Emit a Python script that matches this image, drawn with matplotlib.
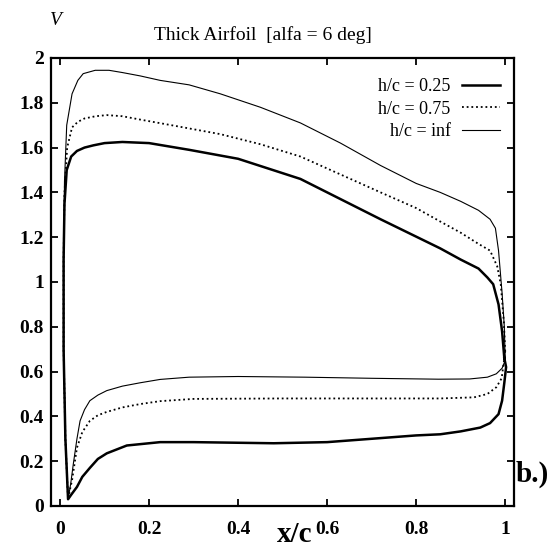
import matplotlib
matplotlib.use("Agg")
import matplotlib.pyplot as plt

# velocity distributions V over the chord, upper and lower surface per ground distance
x_up_025 = [0.018, 0.012, 0.008, 0.008, 0.010, 0.015, 0.025, 0.038, 0.055, 0.075, 0.10, 0.14, 0.20,
            0.29, 0.40, 0.54, 0.72, 0.854, 0.90, 0.94, 0.96, 0.973, 0.985, 0.993, 0.998]
v_up_025 = [0.03, 0.30, 0.70, 1.10, 1.35, 1.50, 1.56, 1.585, 1.60, 1.61, 1.62, 1.625, 1.62,
            1.59, 1.55, 1.46, 1.28, 1.15, 1.10, 1.06, 1.02, 0.99, 0.90, 0.78, 0.66]
x_lo_025 = [0.018, 0.025, 0.038, 0.05, 0.067, 0.085, 0.105, 0.15, 0.225, 0.30, 0.48, 0.60, 0.70,
            0.80, 0.854, 0.90, 0.944, 0.966, 0.985, 0.993, 0.998, 1.002, 0.998]
v_lo_025 = [0.03, 0.05, 0.085, 0.13, 0.17, 0.21, 0.235, 0.27, 0.285, 0.285, 0.28, 0.285, 0.30,
            0.315, 0.32, 0.333, 0.35, 0.37, 0.41, 0.47, 0.55, 0.62, 0.66]

x_up_075 = [0.018, 0.012, 0.008, 0.008, 0.010, 0.016, 0.027, 0.04, 0.055, 0.08, 0.105, 0.14, 0.18,
            0.25, 0.36, 0.45, 0.54, 0.63, 0.72, 0.80, 0.854, 0.90, 0.94, 0.966, 0.982, 0.99, 0.997, 1.0]
v_up_075 = [0.03, 0.30, 0.70, 1.10, 1.40, 1.60, 1.69, 1.715, 1.73, 1.74, 1.745, 1.74, 1.725,
            1.70, 1.66, 1.615, 1.56, 1.48, 1.40, 1.33, 1.27, 1.22, 1.17, 1.14, 1.07, 0.99, 0.82, 0.69]
x_lo_075 = [0.018, 0.022, 0.027, 0.038, 0.05, 0.067, 0.085, 0.105, 0.14, 0.18, 0.225, 0.30, 0.50,
            0.70, 0.854, 0.93, 0.96, 0.98, 0.992, 1.0]
v_lo_075 = [0.03, 0.07, 0.115, 0.26, 0.33, 0.38, 0.405, 0.42, 0.44, 0.455, 0.468, 0.478, 0.48,
            0.48, 0.48, 0.485, 0.50, 0.53, 0.57, 0.69]

x_up_inf = [0.018, 0.012, 0.008, 0.008, 0.010, 0.015, 0.027, 0.04, 0.052, 0.079, 0.11, 0.14, 0.18,
            0.225, 0.29, 0.36, 0.45, 0.54, 0.63, 0.72, 0.80, 0.854, 0.90, 0.94, 0.966, 0.978, 0.985,
            0.993, 0.998, 1.0]
v_up_inf = [0.03, 0.30, 0.70, 1.10, 1.45, 1.70, 1.84, 1.90, 1.93, 1.945, 1.945, 1.935, 1.92,
            1.90, 1.88, 1.84, 1.78, 1.71, 1.62, 1.52, 1.44, 1.40, 1.36, 1.32, 1.28, 1.24, 1.14,
            0.95, 0.80, 0.65]
x_lo_inf = [0.018, 0.024, 0.03, 0.038, 0.045, 0.055, 0.067, 0.085, 0.105, 0.14, 0.18, 0.225, 0.29,
            0.40, 0.55, 0.70, 0.85, 0.92, 0.96, 0.98, 0.993, 1.0]
v_lo_inf = [0.03, 0.10, 0.19, 0.30, 0.38, 0.43, 0.47, 0.495, 0.515, 0.535, 0.55, 0.565, 0.575,
            0.578, 0.575, 0.57, 0.566, 0.567, 0.575, 0.59, 0.615, 0.65]

labels = ["h/c = 0.25", "h/c = 0.75", "h/c = inf"]
xticks = [0, 0.2, 0.4, 0.6, 0.8, 1]
yticks = [0, 0.2, 0.4, 0.6, 0.8, 1, 1.2, 1.4, 1.6, 1.8, 2]

serif = "Liberation Serif"

fig = plt.figure(figsize=(5.54, 5.47), dpi=100)
ax = fig.add_axes([0.0915, 0.075, 0.8365, 0.819])

# each curve runs from the trailing edge over the upper side, round the nose and back along the lower side
ax.plot(x_up_025[::-1] + x_lo_025[1:], v_up_025[::-1] + v_lo_025[1:],
        color="black", lw=1.8, label=labels[0])
ax.plot(x_up_075[::-1] + x_lo_075[1:], v_up_075[::-1] + v_lo_075[1:],
        color="black", lw=1.3, linestyle=(0, (1, 1.6)), label=labels[1])
ax.plot(x_up_inf[::-1] + x_lo_inf[1:], v_up_inf[::-1] + v_lo_inf[1:],
        color="black", lw=0.8, label=labels[2])

ax.set_xlim(-0.021, 1.02)
ax.set_ylim(0, 2)
ax.set_xticks(xticks)
ax.set_xticklabels([f"{t:g}" for t in xticks])
ax.set_yticks(yticks)
ax.set_yticklabels([f"{t:g}" for t in yticks])
ax.tick_params(direction="in", top=True, right=True, length=5, width=1.3)
ax.tick_params(axis="x", pad=11)
ax.tick_params(axis="y", pad=5)
for lab in ax.get_xticklabels() + ax.get_yticklabels():
    lab.set_fontfamily(serif)
    lab.set_fontsize(14)
    lab.set_fontweight("bold")
for sp in ax.spines.values():
    sp.set_linewidth(1.6)

ax.legend(loc="upper right", bbox_to_anchor=(0.97, 0.955), frameon=False, markerfirst=False,
          prop={"family": serif, "size": 13}, handlelength=2.1, handletextpad=0.65,
          labelspacing=0.3, borderpad=0, borderaxespad=0)

fig.text(0.475, 0.936, "Thick Airfoil  [alfa = 6 deg]", family=serif, fontsize=14,
         ha="center", va="center")
fig.text(0.101, 0.963, "V", family=serif, style="italic", fontsize=14, ha="center", va="center")
fig.text(0.532, 0.022, "x/c", family=serif, fontsize=21, fontweight="bold",
         ha="center", va="center")
fig.text(0.96, 0.133, "b.)", family=serif, fontsize=21, fontweight="bold", ha="center", va="center")

fig.savefig("out.png", dpi=100)
